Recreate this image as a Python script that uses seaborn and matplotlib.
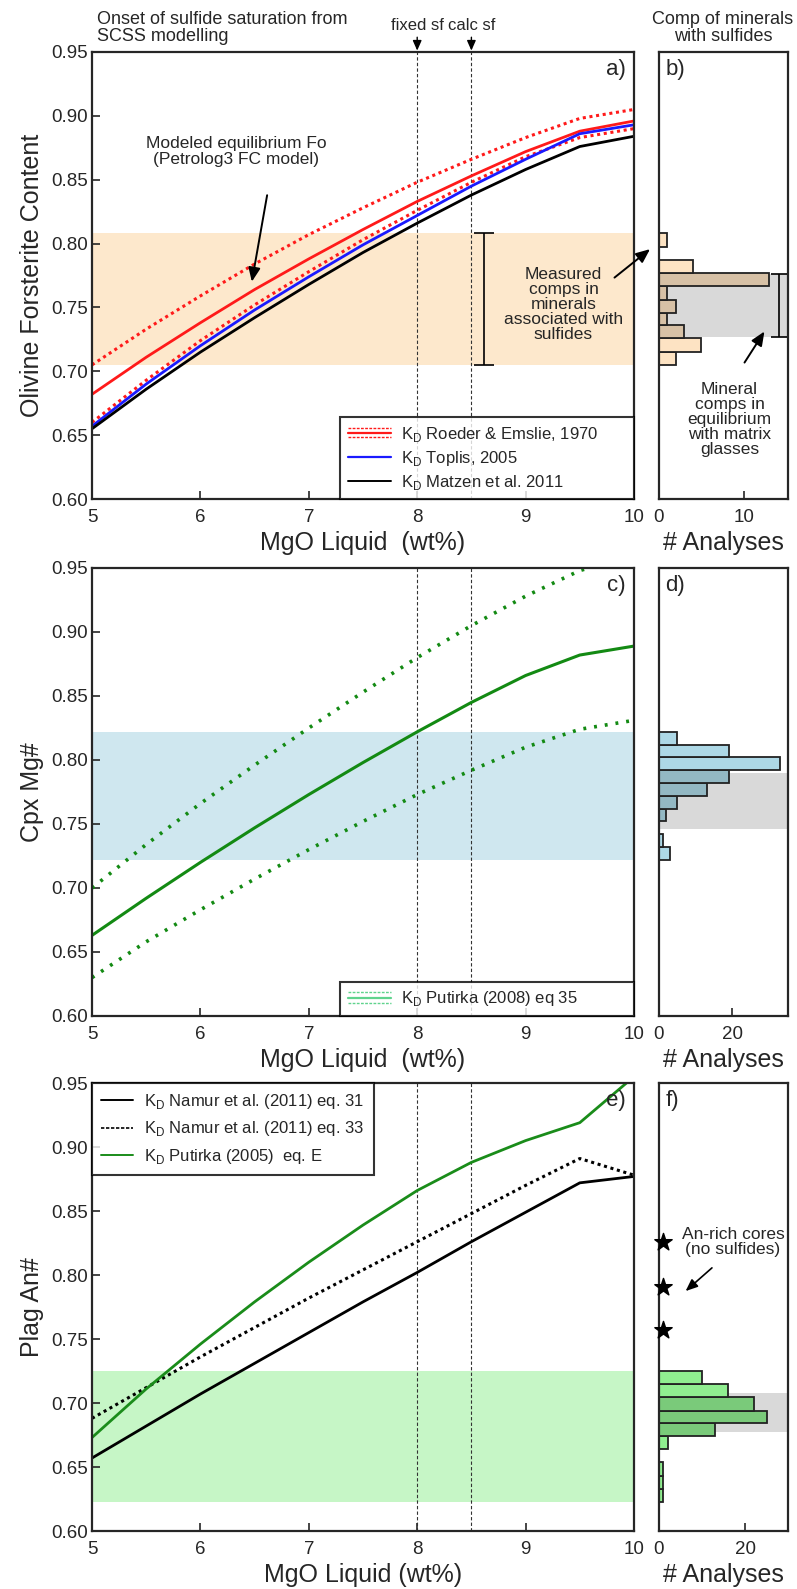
import numpy as np
import pandas as pd
import matplotlib
matplotlib.use("Agg")
import matplotlib.pyplot as plt
import seaborn as sns
from matplotlib.lines import Line2D
from matplotlib.legend_handler import HandlerBase
from matplotlib import font_manager

# ---------------- data ----------------
mgo = [5.0, 5.5, 6.0, 6.5, 7.0, 7.5, 8.0, 8.5, 9.0, 9.5, 10.0]

# panel a : olivine Fo
fo_roeder_hi = [0.705, 0.733, 0.759, 0.784, 0.807, 0.828, 0.848, 0.866, 0.883, 0.898, 0.905]
fo_roeder = [0.682, 0.711, 0.738, 0.764, 0.788, 0.811, 0.833, 0.853, 0.872, 0.888, 0.896]
fo_roeder_lo = [0.660, 0.693, 0.724, 0.752, 0.778, 0.803, 0.826, 0.848, 0.868, 0.883, 0.890]
fo_toplis = [0.657, 0.690, 0.720, 0.748, 0.774, 0.799, 0.822, 0.845, 0.866, 0.886, 0.893]
fo_matzen = [0.655, 0.686, 0.715, 0.742, 0.768, 0.793, 0.816, 0.838, 0.858, 0.876, 0.884]

# panel c : cpx Mg#
cpx_put_hi = [0.700, 0.734, 0.766, 0.796, 0.825, 0.853, 0.880, 0.905, 0.928, 0.948, 0.960]
cpx_put = [0.663, 0.692, 0.720, 0.747, 0.773, 0.798, 0.822, 0.845, 0.866, 0.882, 0.889]
cpx_put_lo = [0.630, 0.658, 0.683, 0.707, 0.730, 0.752, 0.773, 0.792, 0.810, 0.824, 0.831]

# panel e : plag An#
an_namur31 = [0.657, 0.682, 0.707, 0.731, 0.755, 0.779, 0.802, 0.826, 0.849, 0.872, 0.877]
an_namur33 = [0.688, 0.712, 0.736, 0.759, 0.782, 0.804, 0.826, 0.848, 0.870, 0.891, 0.878]
an_putirka = [0.673, 0.711, 0.746, 0.779, 0.810, 0.839, 0.866, 0.888, 0.905, 0.919, 0.955]

# histograms (bin edges and counts)
ol_edges = [0.705, 0.715, 0.726, 0.736, 0.746, 0.756, 0.767, 0.777, 0.787, 0.797, 0.808]
ol_counts = [2, 5, 3, 1, 2, 1, 13, 4, 0, 1]
cpx_edges = [0.722, 0.732, 0.742, 0.752, 0.762, 0.772, 0.782, 0.792, 0.802, 0.812, 0.822]
cpx_counts = [3, 1, 0, 2, 5, 13, 19, 33, 19, 5]
plag_edges = [0.623, 0.633, 0.643, 0.654, 0.664, 0.674, 0.684, 0.694, 0.705, 0.715, 0.725]
plag_counts = [1, 1, 1, 0, 2, 13, 25, 22, 16, 10]
an_cores = [0.757, 0.791, 0.826]

# ranges
ol_range = (0.705, 0.808)
ol_eq = (0.727, 0.776)
cpx_range = (0.722, 0.822)
cpx_eq = (0.746, 0.790)
plag_range = (0.623, 0.725)
plag_eq = (0.677, 0.708)
sf_fixed, sf_calc = 8.0, 8.5

yticks = [0.60, 0.65, 0.70, 0.75, 0.80, 0.85, 0.90, 0.95]
xticks = [5, 6, 7, 8, 9, 10]

# ---------------- style ----------------
sns.set_theme(style="ticks")
avail = {f.name for f in font_manager.fontManager.ttflist}
base = "Liberation Sans" if "Liberation Sans" in avail else "DejaVu Sans"
narrow = "Liberation Sans Narrow" if "Liberation Sans Narrow" in avail else base
plt.rcParams["font.family"] = [base, "DejaVu Sans"]
plt.rcParams["mathtext.fontset"] = "custom"
plt.rcParams["mathtext.rm"] = base
plt.rcParams["axes.linewidth"] = 1.6
plt.rcParams["xtick.direction"] = "in"
plt.rcParams["ytick.direction"] = "in"

W, H = 797, 1589
fig = plt.figure(figsize=(W / 100, H / 100), dpi=100)
fig.patch.set_facecolor("white")


def axes_px(l, t, r, b):
    return fig.add_axes([l / W, 1 - b / H, (r - l) / W, (b - t) / H])


ax_a = axes_px(92, 52, 634, 499)
ax_b = axes_px(659, 52, 788, 499)
ax_c = axes_px(92, 568, 634, 1016)
ax_d = axes_px(659, 568, 788, 1016)
ax_e = axes_px(92, 1083, 634, 1531)
ax_f = axes_px(659, 1083, 788, 1531)

TICK_FS = 13.5
LAB_FS = 18
LEG_FS = 12
ANN_FS = 12.5
NARROW = [narrow, "DejaVu Sans"]


class Triple:
    def __init__(self, color, off=0.4):
        self.color = color
        self.off = off


class HandlerTriple(HandlerBase):
    def create_artists(self, legend, orig_handle, xdescent, ydescent,
                       width, height, fontsize, trans):
        c = orig_handle.color
        yc = height / 2 - ydescent
        x0, x1 = -xdescent, width - xdescent
        off = orig_handle.off * height
        arts = []
        for dy, ls in [(off, (0, (2, 1))), (0, "-"), (-off, (0, (2, 1)))]:
            ln = Line2D([x0, x1], [yc + dy, yc + dy], color=c, lw=1.0 if ls != "-" else 1.6,
                        linestyle=ls, transform=trans)
            arts.append(ln)
        return arts


def style_main(ax, ylabel, xlabel):
    ax.set_xlim(5, 10)
    ax.set_ylim(0.60, 0.95)
    ax.set_xticks(xticks)
    ax.set_yticks(yticks)
    ax.set_yticklabels([f"{v:.2f}" for v in yticks])
    ax.tick_params(axis="x", labelsize=TICK_FS, length=6, width=1.2, top=False, pad=7)
    ax.tick_params(axis="y", labelsize=TICK_FS, length=6, width=1.2, right=False, pad=3)
    ax.set_ylabel(ylabel, fontsize=LAB_FS, labelpad=5)
    ax.set_xlabel(xlabel, fontsize=LAB_FS, labelpad=4)
    for xv in (sf_fixed, sf_calc):
        ax.axvline(xv, color="#333333", lw=0.8, ls=(0, (3, 2)), zorder=1)


def style_hist(ax, xmax, xt):
    ax.set_ylim(0.60, 0.95)
    ax.set_xlim(0, xmax)
    ax.set_yticks([])
    ax.set_xticks(xt)
    ax.tick_params(axis="x", labelsize=TICK_FS, length=6, width=1.2, pad=7)
    ax.set_ylabel("")
    ax.set_xlabel("# Analyses", fontsize=LAB_FS, labelpad=4)


def multiply(c, g=0.85):
    r = matplotlib.colors.to_rgb(c)
    return tuple(v * g for v in r)


def draw_hist(ax, edges, counts, color, eq):
    centers = [(edges[i] + edges[i + 1]) / 2 for i in range(len(counts))]
    df = pd.DataFrame({"v": centers, "n": counts})
    ax.axhspan(eq[0], eq[1], color="#d9d9d9", lw=0, zorder=0)
    n_before = len(ax.patches)
    sns.histplot(data=df, y="v", weights="n", bins=edges, ax=ax, color=color,
                 edgecolor="#222222", linewidth=1.3, alpha=1.0, zorder=2)
    for p in ax.patches[n_before:]:
        yc = p.get_y() + p.get_height() / 2
        if eq[0] <= yc <= eq[1]:
            p.set_facecolor(multiply(color))
        else:
            p.set_facecolor(color)


def legend_box(ax, handles, labels, x0, loc, **kw):
    if loc == "lower right":
        leg = ax.legend(handles, labels, handler_map={Triple: HandlerTriple()},
                        loc="lower left", bbox_to_anchor=(x0, 0.0, 1 - x0, 0.3), mode="expand",
                        borderaxespad=0, fontsize=LEG_FS, frameon=True, fancybox=False,
                        edgecolor="black", **kw)
    else:
        leg = ax.legend(handles, labels, handler_map={Triple: HandlerTriple()},
                        loc="upper left", borderaxespad=0, fontsize=LEG_FS, frameon=True,
                        fancybox=False, edgecolor="black", **kw)
    leg.get_frame().set_linewidth(1.5)
    leg.set_zorder(5)
    return leg


LEG_X0 = (340 - 92) / (634 - 92)

# ---------------- panel a ----------------
ax = ax_a
ax.axhspan(*ol_range, color="#fde8cc", lw=0, zorder=0)
dfa = pd.DataFrame({"MgO": mgo, "hi": fo_roeder_hi, "mid": fo_roeder, "lo": fo_roeder_lo,
                    "toplis": fo_toplis, "matzen": fo_matzen})
sns.lineplot(data=dfa, x="MgO", y="hi", ax=ax, color="#ff1a1a", lw=2.2, linestyle=(0, (1, 1.2)))
sns.lineplot(data=dfa, x="MgO", y="lo", ax=ax, color="#ff1a1a", lw=2.2, linestyle=(0, (1, 1.2)))
sns.lineplot(data=dfa, x="MgO", y="mid", ax=ax, color="#ff1a1a", lw=2.0)
sns.lineplot(data=dfa, x="MgO", y="toplis", ax=ax, color="#1a1aff", lw=2.0)
sns.lineplot(data=dfa, x="MgO", y="matzen", ax=ax, color="black", lw=2.0)
style_main(ax, "Olivine Forsterite Content", "MgO Liquid  (wt%)")
ax.errorbar([8.62], [(ol_range[0] + ol_range[1]) / 2], yerr=[[(ol_range[1] - ol_range[0]) / 2]],
            color="black", capsize=7, lw=1.2, capthick=1.2, zorder=3)
ax.text(9.35, 0.752, "Measured\ncomps in\nminerals\nassociated with\nsulfides", ha="center",
        va="center", fontsize=ANN_FS, family=NARROW, linespacing=1.0)
ax.annotate("", xy=(6.47, 0.768), xytext=(6.62, 0.840),
            arrowprops=dict(arrowstyle="-|>,head_length=0.7,head_width=0.3", color="black", lw=1.4))
ax.text(6.33, 0.872, "Modeled equilibrium Fo\n(Petrolog3 FC model)", ha="center", va="center",
        fontsize=ANN_FS, family=NARROW, linespacing=1.05)
ax.text(0.985, 0.985, "a)", transform=ax.transAxes, ha="right", va="top", fontsize=16)
h_a = [Triple("#ff1a1a", 0.38), Line2D([], [], color="#1a1aff", lw=1.6),
       Line2D([], [], color="black", lw=1.4)]
legend_box(ax, h_a, [r"K$_{\mathregular{D}}$ Roeder & Emslie, 1970",
                     r"K$_{\mathregular{D}}$ Toplis, 2005",
                     r"K$_{\mathregular{D}}$ Matzen et al. 2011"],
           LEG_X0, "lower right", handlelength=2.6, handletextpad=0.6, borderpad=0.45,
           labelspacing=0.3)

# header texts
fig.text(97 / W, 1 - 11 / H, "Onset of sulfide saturation from\nSCSS modelling", ha="left",
         va="top", fontsize=13, family=NARROW, linespacing=1.0)
for xv, lab in [(sf_fixed, "fixed sf"), (sf_calc, "calc sf")]:
    ax.annotate(lab, xy=(xv, 1.0), xycoords=("data", "axes fraction"), xytext=(0, 14),
                textcoords="offset points", ha="center", va="bottom", fontsize=12,
                family=NARROW,
                arrowprops=dict(arrowstyle="-|>,head_length=0.5,head_width=0.22", color="black",
                                lw=1.0, shrinkA=1, shrinkB=1))

# ---------------- panel b ----------------
ax = ax_b
draw_hist(ax, ol_edges, ol_counts, "#fde3c3", ol_eq)
style_hist(ax, 15.2, [0, 10])
ax.errorbar([14.1], [(ol_eq[0] + ol_eq[1]) / 2], yerr=[[(ol_eq[1] - ol_eq[0]) / 2]],
            color="black", capsize=6, lw=1.2, capthick=1.2, zorder=4)
ax.text(0.05, 0.985, "b)", transform=ax.transAxes, ha="left", va="top", fontsize=16)
ax.text(8.3, 0.662, "Mineral\ncomps in\nequilibrium\nwith matrix\nglasses", ha="center",
        va="center", fontsize=ANN_FS, family=NARROW, linespacing=1.0)
ax.annotate("", xy=(12.6, 0.733), xytext=(9.9, 0.705),
            arrowprops=dict(arrowstyle="-|>,head_length=0.7,head_width=0.3", color="black", lw=1.4))
fig.text(723 / W, 1 - 11 / H, "Comp of minerals\nwith sulfides", ha="center", va="top",
         fontsize=13, family=NARROW, linespacing=1.0)
ax_a.annotate("", xy=(-0.8, 0.797), xycoords=ax_b.transData, xytext=(9.8, 0.772),
              textcoords="data", annotation_clip=False,
              arrowprops=dict(arrowstyle="-|>,head_length=0.7,head_width=0.3", color="black", lw=1.4))

# ---------------- panel c ----------------
ax = ax_c
ax.axhspan(*cpx_range, color="#cfe7ef", lw=0, zorder=0)
dfc = pd.DataFrame({"MgO": mgo, "hi": cpx_put_hi, "mid": cpx_put, "lo": cpx_put_lo})
sns.lineplot(data=dfc, x="MgO", y="hi", ax=ax, color="#138a13", lw=2.6, linestyle=(0, (0.8, 2.2)))
sns.lineplot(data=dfc, x="MgO", y="lo", ax=ax, color="#138a13", lw=2.6, linestyle=(0, (0.8, 2.2)))
sns.lineplot(data=dfc, x="MgO", y="mid", ax=ax, color="#138a13", lw=2.2)
style_main(ax, "Cpx Mg#", "MgO Liquid  (wt%)")
ax.text(0.985, 0.985, "c)", transform=ax.transAxes, ha="right", va="top", fontsize=16)
legend_box(ax, [Triple("#5fd38d", 0.45)], [r"K$_{\mathregular{D}}$ Putirka (2008) eq 35"],
           LEG_X0, "lower right", handlelength=2.6, handletextpad=0.6, borderpad=0.45)

# ---------------- panel d ----------------
ax = ax_d
draw_hist(ax, cpx_edges, cpx_counts, "#add8e6", cpx_eq)
style_hist(ax, 35.2, [0, 20])
ax.text(0.05, 0.985, "d)", transform=ax.transAxes, ha="left", va="top", fontsize=16)

# ---------------- panel e ----------------
ax = ax_e
ax.axhspan(*plag_range, color="#c6f6c6", lw=0, zorder=0)
dfe = pd.DataFrame({"MgO": mgo, "n31": an_namur31, "n33": an_namur33, "put": an_putirka})
sns.lineplot(data=dfe, x="MgO", y="n31", ax=ax, color="black", lw=2.0)
sns.lineplot(data=dfe, x="MgO", y="n33", ax=ax, color="black", lw=2.2, linestyle=(0, (1, 1.2)))
sns.lineplot(data=dfe, x="MgO", y="put", ax=ax, color="#1a8c1a", lw=2.0)
style_main(ax, "Plag An#", "MgO Liquid (wt%)")
ax.text(0.985, 0.985, "e)", transform=ax.transAxes, ha="right", va="top", fontsize=16)
h_e = [Line2D([], [], color="black", lw=1.4),
       Line2D([], [], color="black", lw=1.2, linestyle=(0, (2, 1))),
       Line2D([], [], color="#1a8c1a", lw=1.4)]
legend_box(ax, h_e, [r"K$_{\mathregular{D}}$ Namur et al. (2011) eq. 31",
                     r"K$_{\mathregular{D}}$ Namur et al. (2011) eq. 33",
                     r"K$_{\mathregular{D}}$ Putirka (2005)  eq. E"],
           0, "upper left", handlelength=1.9, handletextpad=0.7, borderpad=0.55,
           labelspacing=0.5)

# ---------------- panel f ----------------
ax = ax_f
draw_hist(ax, plag_edges, plag_counts, "#90ee90", plag_eq)
style_hist(ax, 30, [0, 20])
sns.scatterplot(x=[1.0] * len(an_cores), y=an_cores, ax=ax, marker="*", s=170, color="black",
                edgecolor="black", zorder=5, clip_on=False)
ax.text(0.05, 0.985, "f)", transform=ax.transAxes, ha="left", va="top", fontsize=16)
ax.text(17.2, 0.826, "An-rich cores\n(no sulfides)", ha="center", va="center", fontsize=ANN_FS,
        family=NARROW, linespacing=1.0)
ax.annotate("", xy=(5.7, 0.786), xytext=(12.8, 0.807),
            arrowprops=dict(arrowstyle="-|>,head_length=0.6,head_width=0.25", color="black", lw=1.2))

fig.savefig("out.png", dpi=100)
